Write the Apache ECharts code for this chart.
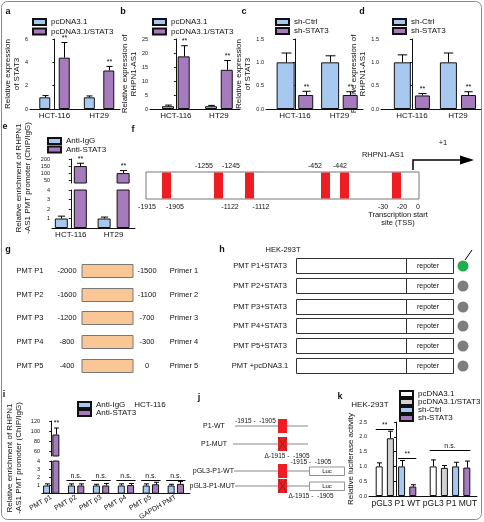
<!DOCTYPE html>
<html lang="en">
<head>
<meta charset="UTF-8">
<title>STAT3 / RHPN1-AS1</title>
<style>
  html, body { margin: 0; padding: 0; background: #fff; }
  #chart { width: 484px; height: 522px; }
</style>
<script src="https://cdn.jsdelivr.net/npm/echarts@6/dist/echarts.min.js"></script>
</head>
<body>
<div id="chart"></div>
<script>
// ---------- data ----------
var cells = ['HCT-116', 'HT29'];

// a: STAT3 after overexpression
var aCtrl = [1.0, 1.0], aCtrlErr = [0.15, 0.12];
var aStat = [4.4, 3.3], aStatErr = [1.3, 0.35];
// b: RHPN1-AS1 after overexpression
var bCtrl = [1.0, 1.0], bCtrlErr = [0.4, 0.3];
var bStat = [18.8, 14.0], bStatErr = [3.8, 3.3];
// c: STAT3 after knockdown
var cCtrl = [1.0, 1.0], cCtrlErr = [0.2, 0.14];
var cSh = [0.3, 0.3], cShErr = [0.08, 0.07];
// d: RHPN1-AS1 after knockdown
var dCtrl = [1.0, 1.0], dCtrlErr = [0.16, 0.2];
var dSh = [0.29, 0.3], dShErr = [0.04, 0.07];
// e: ChIP enrichment
var eIgG = [1.0, 1.0], eIgGErr = [0.25, 0.15];
var eStat = [150, 100], eStatErr = [20, 18];
// i: ChIP per promoter region (HCT-116)
var iCats = ['PMT p1', 'PMT p2', 'PMT p3', 'PMT p4', 'PMT p5', 'GAPDH PMT'];
var iIgG = [1.0, 1.0, 1.0, 1.0, 1.0, 1.0], iIgGErr = [0.2, 0.2, 0.15, 0.2, 0.2, 0.15];
var iStat = [93, 1.0, 1.0, 1.05, 1.15, 1.2], iStatErr = [13, 0.2, 0.25, 0.2, 0.25, 0.3];
// k: luciferase (HEK-293T)
var kCats = ['pGL3 P1 WT', 'pGL3 P1 MUT'];
var kNames = ['pcDNA3.1', 'pcDNA3.1/STAT3', 'sh-Ctrl', 'sh-STAT3'];
var kVals = [[1.0, 1.0], [1.95, 0.95], [1.0, 1.0], [0.32, 0.96]];
var kErrs = [[0.12, 0.22], [0.24, 0.08], [0.2, 0.14], [0.06, 0.22]];

// schematic texts
var fTop = ['-1255', '-1245', '-452', '-442'];
var fBottom = ['-1915', '-1905', '-1122', '-1112', '-30', '-20', '0'];
var gNames = ['PMT P1', 'PMT P2', 'PMT P3', 'PMT P4', 'PMT P5'];
var gStart = ['-2000', '-1600', '-1200', '-800', '-400'];
var gEnd = ['-1500', '-1100', '-700', '-300', '0'];
var gPrimer = ['Primer 1', 'Primer 2', 'Primer 3', 'Primer 4', 'Primer 5'];
var hNames = ['PMT P1+STAT3', 'PMT P2+STAT3', 'PMT P3+STAT3', 'PMT P4+STAT3', 'PMT P5+STAT3', 'PMT +pcDNA3.1'];
var hActive = [true, false, false, false, false, false];

// ---------- style ----------
var FONT = '"Liberation Sans", Arial, sans-serif';
var BLUE = '#a7c9f0', PURPLE = '#a67bbd', GRAY = '#d2d2d2', WHITE = '#ffffff';
var RED = '#ee1d23';

function offsets(widths, gap) {
  var sum = 0, res = [], o;
  widths.forEach(function (w) { sum += w * (1 + gap); });
  sum -= widths[widths.length - 1] * gap;
  o = -sum / 2;
  widths.forEach(function (w) { res.push(o + w / 2); o += w * (1 + gap); });
  return res;
}

function errRender(params, api) {
  var x = api.value(0), y = api.value(1), e = api.value(2);
  var off = api.value(3), cap = api.value(4), star = api.value(5);
  var p0 = api.coord([x, y]), p1 = api.coord([x, y + e]);
  var cx = Math.round(p0[0] + off) + 0.5;
  var kids = [
    {type: 'line', shape: {x1: cx, y1: p0[1], x2: cx, y2: p1[1]}, style: {stroke: '#000', lineWidth: 1}},
    {type: 'line', shape: {x1: cx - cap / 2, y1: p1[1], x2: cx + cap / 2, y2: p1[1]}, style: {stroke: '#000', lineWidth: 1}}
  ];
  if (star) {
    kids.push({type: 'text', x: cx, y: p1[1] - 1,
      style: {text: '**', fontSize: 7, fontFamily: FONT, fill: '#000', textAlign: 'center', textVerticalAlign: 'bottom'}});
  }
  return {type: 'group', children: kids};
}

var series = [];

function panel(gi, prefix, names, colors, vals, errs, stars, widths, gap, barKeep, errKeep) {
  var off = offsets(widths, gap), edata = [];
  names.forEach(function (n, s) {
    series.push({
      type: 'bar', name: prefix + n, xAxisIndex: gi, yAxisIndex: gi,
      barWidth: widths[s], barGap: (gap * 100) + '%', silent: true,
      itemStyle: {color: colors[s], borderColor: '#111', borderWidth: 1},
      data: vals[s].map(function (v, i) { return [i, barKeep(v) ? v : '-']; })
    });
    vals[s].forEach(function (v, i) {
      if (errKeep(v)) edata.push([i, v, errs[s][i], off[s], Math.max(5, widths[s] * 0.55), stars[s][i] ? 1 : 0]);
    });
  });
  series.push({type: 'custom', xAxisIndex: gi, yAxisIndex: gi, silent: true, z: 5,
    renderItem: errRender, data: edata});
  return off;
}

function marks(gi, items) {
  series.push({type: 'custom', xAxisIndex: gi, yAxisIndex: gi, silent: true, z: 6,
    data: items.map(function (m) { return [m.x, m.y]; }),
    renderItem: function (params, api) {
      var m = items[params.dataIndex];
      var p = api.coord([m.x, m.y]);
      var x1 = p[0] + m.from, x2 = p[0] + m.to, y = Math.round(p[1]) + 0.5;
      return {type: 'group', children: [
        {type: 'line', shape: {x1: x1, y1: y, x2: x2, y2: y}, style: {stroke: '#000', lineWidth: 1}},
        {type: 'text', x: (x1 + x2) / 2, y: y - 1,
          style: {text: m.text, fontSize: 7, fontFamily: FONT, fill: '#111', textAlign: 'center', textVerticalAlign: 'bottom'}}
      ]};
    }});
}

var all = function () { return true; };
var none = [0, 0];

// a-d
panel(0, 'a::', ['pcDNA3.1', 'pcDNA3.1/STAT3'], [BLUE, PURPLE], [aCtrl, aStat], [aCtrlErr, aStatErr],
  [none, [1, 1]], [11, 11], 0.77, all, all);
panel(1, 'b::', ['pcDNA3.1', 'pcDNA3.1/STAT3'], [BLUE, PURPLE], [bCtrl, bStat], [bCtrlErr, bStatErr],
  [none, [1, 1]], [12, 12], 0.31, all, all);
panel(2, 'c::', ['sh-Ctrl', 'sh-STAT3'], [BLUE, PURPLE], [cCtrl, cSh], [cCtrlErr, cShErr],
  [none, [1, 1]], [18, 15], 0.2, all, all);
panel(3, 'd::', ['sh-Ctrl', 'sh-STAT3'], [BLUE, PURPLE], [dCtrl, dSh], [dCtrlErr, dShErr],
  [none, [1, 1]], [17, 15], 0.24, all, all);

// e (broken axis: upper + lower grid)
var big = function (v) { return v > 10; }, small = function (v) { return v <= 10; };
panel(4, 'e::', ['Anti-IgG', 'Anti-STAT3'], [BLUE, PURPLE], [eIgG, eStat], [eIgGErr, eStatErr],
  [none, [1, 1]], [13, 13], 0.46, big, big);
panel(5, 'e::', ['Anti-IgG', 'Anti-STAT3'], [BLUE, PURPLE], [eIgG, eStat], [eIgGErr, eStatErr],
  [none, [0, 0]], [13, 13], 0.46, all, small);

// i
var iStars = [[0, 0, 0, 0, 0, 0], [1, 0, 0, 0, 0, 0]];
panel(6, 'i::', ['Anti-IgG', 'Anti-STAT3'], [BLUE, PURPLE], [iIgG, iStat], [iIgGErr, iStatErr],
  iStars, [7, 7], 0.33, big, big);
var iOff = panel(7, 'i::', ['Anti-IgG', 'Anti-STAT3'], [BLUE, PURPLE], [iIgG, iStat], [iIgGErr, iStatErr],
  iStars, [7, 7], 0.33, all, small);
var iMarks = [];
for (var c = 1; c < iCats.length; c++) {
  iMarks.push({x: c, y: 1.7, from: iOff[0] - 5, to: iOff[1] + 5, text: 'n.s.'});
}
marks(7, iMarks);

// k
var kOff = panel(8, 'k::', kNames, [WHITE, GRAY, BLUE, PURPLE], kVals, kErrs,
  [none, none, none, none], [7, 7, 7, 7], 0.6, all, all);
marks(8, [
  {x: 0, y: 2.25, from: kOff[0] - 3.5, to: kOff[1] + 3.5, text: '**'},
  {x: 0, y: 1.28, from: kOff[2] - 3.5, to: kOff[3] + 3.5, text: '**'},
  {x: 1, y: 1.55, from: kOff[0] - 3.5, to: kOff[3] + 3.5, text: 'n.s.'}
]);

// ---------- axes ----------
var grids = [
  [30, 39, 90, 70], [150, 39, 90, 70], [266, 39, 97, 70], [381, 39, 100, 70],
  [52, 159, 83, 24], [52, 190, 83, 38],
  [42, 421, 148, 35], [42, 461, 148, 36],
  [369, 422, 108, 74]
];

function xAx(gi, min, max, cats, show, rotate, size) {
  return {
    gridIndex: gi, type: 'value', min: min, max: max, show: show,
    axisLine: {lineStyle: {color: '#111', width: 1}},
    axisTick: {show: false}, splitLine: {show: false},
    axisLabel: {
      customValues: cats.map(function (c, i) { return i; }),
      formatter: function (v) { return cats[Math.round(v)] || ''; },
      fontSize: size || 8, color: '#111', margin: 3, rotate: rotate || 0
    }
  };
}

function yAx(gi, min, max, interval, o) {
  o = o || {};
  var ax = {
    gridIndex: gi, type: 'value', min: min, max: max, interval: interval,
    splitLine: {show: false},
    axisLine: {show: true, lineStyle: {color: '#111', width: 1}},
    axisTick: {show: true, length: 2, lineStyle: {color: '#111'}},
    axisLabel: {fontSize: 5.5, color: '#111', margin: 2, formatter: o.fmt}
  };
  if (o.labels) { ax.axisLabel.customValues = o.labels; }
  if (o.ticks) { ax.axisTick.customValues = o.ticks; }
  if (o.name) {
    ax.name = o.name;
    ax.nameLocation = 'middle';
    ax.nameGap = o.gap;
    ax.nameTextStyle = {fontSize: 8, lineHeight: 9, color: '#111', fontFamily: FONT};
  }
  return ax;
}

var dec1 = function (v) { return v.toFixed(1); };

var xAxes = [
  xAx(0, -0.55, 1.47, cells, true),
  xAx(1, -0.6, 1.49, cells, true),
  xAx(2, -0.65, 1.53, cells, true),
  xAx(3, -0.67, 1.5, cells, true),
  xAx(4, -0.44, 1.5, cells, false),
  xAx(5, -0.44, 1.5, cells, true),
  xAx(6, -0.37, 5.57, iCats, false),
  xAx(7, -0.37, 5.57, iCats, true, 30, 7),
  xAx(8, -0.5, 1.5, kCats, true, 0, 8.5)
];

var yAxes = [
  yAx(0, 0, 6, 2, {name: 'Relative expression\nof STAT3', gap: 5}),
  yAx(1, 0, 25, 5, {name: 'Relative expression of\nRHPN1-AS1', gap: 8}),
  yAx(2, 0, 1.5, 0.5, {fmt: dec1, name: 'Relative expression\nof STAT3', gap: 11}),
  yAx(3, 0, 1.5, 0.5, {fmt: dec1, name: 'Relative expression of\nRHPN1-AS1', gap: 7}),
  yAx(4, 30, 200, null, {labels: [50, 100, 150, 200], ticks: [50, 100, 150, 200]}),
  yAx(5, 0, 4, 1, {labels: [1, 2, 3, 4]}),
  yAx(6, 50, 120, null, {labels: [60, 80, 100, 120], ticks: [60, 80, 100, 120]}),
  yAx(7, 0, 4, 1, {labels: [1, 2, 3, 4]}),
  yAx(8, 0, 2.5, 0.5, {fmt: dec1, name: 'Relative luciferase activity', gap: 13})
];

// ---------- legends ----------
function leg(left, top, names, gap) {
  return {
    left: left, top: top, orient: 'vertical', padding: 0, icon: 'rect',
    itemWidth: 13, itemHeight: 6, itemGap: gap, selectedMode: false,
    data: names,
    formatter: function (n) { return n.split('::')[1]; },
    textStyle: {fontSize: 8, lineHeight: 8, color: '#111', fontFamily: FONT}
  };
}
var legends = [
  leg(32, 18, ['a::pcDNA3.1', 'a::pcDNA3.1/STAT3'], 1.5),
  leg(152, 18, ['b::pcDNA3.1', 'b::pcDNA3.1/STAT3'], 1.5),
  leg(275, 18, ['c::sh-Ctrl', 'c::sh-STAT3'], 1),
  leg(392, 18, ['d::sh-Ctrl', 'd::sh-STAT3'], 1),
  leg(47, 137, ['e::Anti-IgG', 'e::Anti-STAT3'], 0.5),
  leg(77, 401, ['i::Anti-IgG', 'i::Anti-STAT3'], 0),
  leg(399, 390, kNames.map(function (n) { return 'k::' + n; }), 0)
];

// ---------- schematic / annotation graphics ----------
function txt(x, y, s, size, o) {
  o = o || {};
  return {type: 'text', x: x, y: y, rotation: o.rot || 0, silent: true, z: 10,
    style: {text: s, fontSize: size, fontFamily: FONT, fontWeight: o.bold ? 'bold' : 'normal',
      fill: o.color || '#111', textAlign: o.align || 'center', textVerticalAlign: 'middle', lineHeight: o.lh}};
}
function rect(x, y, w, h, fill, stroke, lw) {
  return {type: 'rect', silent: true, z: 9, shape: {x: x, y: y, width: w, height: h},
    style: {fill: fill, stroke: stroke || null, lineWidth: lw || 1}};
}
function seg(x1, y1, x2, y2, stroke, lw) {
  return {type: 'line', silent: true, z: 9, shape: {x1: x1, y1: y1, x2: x2, y2: y2},
    style: {stroke: stroke || '#000', lineWidth: lw || 1}};
}

var G = [];
G.push({type: 'rect', silent: true, shape: {x: 1.5, y: 1.5, width: 480, height: 518, r: 6},
  style: {fill: null, stroke: '#8a8a8a', lineWidth: 1}});

// panel letters
[['a', 8, 12], ['b', 123, 12], ['c', 244, 12], ['d', 362, 12], ['e', 5, 127], ['f', 133, 130],
 ['g', 8, 250], ['h', 222, 250], ['i', 4, 395], ['j', 199, 398], ['k', 340, 397]].forEach(function (l) {
  G.push(txt(l[1], l[2], l[0], 9, {bold: true}));
});

// rotated axis names for broken-axis panels
G.push(txt(23, 178, 'Relative enrichment of RHPN1\n-AS1 PMT promoter (ChIP/IgG)', 8, {rot: Math.PI / 2, lh: 9}));
G.push(txt(14, 458, 'Relative enrichment of RHPN1\n-AS1 PMT promoter (ChIP/IgG)', 8, {rot: Math.PI / 2, lh: 9}));
G.push(txt(150, 405, 'HCT-116', 8));
G.push(txt(370, 405, 'HEK-293T', 8));

// f: promoter map
G.push(rect(146, 172, 273, 27, '#fff', '#777', 1));
[162, 214, 245, 321, 340, 392].forEach(function (x) { G.push(rect(x, 172.5, 9, 26, RED)); });
[204, 231, 315, 340].forEach(function (x, i) { G.push(txt(x, 166, fTop[i], 7)); });
[147, 175, 230, 261, 383, 402, 418].forEach(function (x, i) { G.push(txt(x, 207, fBottom[i], 7)); });
G.push(txt(398, 215, 'Transcription start', 7.5));
G.push(txt(398, 223, 'site (TSS)', 7.5));
G.push(txt(383, 155, 'RHPN1-AS1', 7.5));
G.push(txt(443, 143, '+1', 7.5));
G.push({type: 'polyline', silent: true, z: 9, shape: {points: [[413, 170], [413, 160], [464, 160]]},
  style: {stroke: '#000', lineWidth: 1.5, fill: null}});
G.push({type: 'polygon', silent: true, z: 9, shape: {points: [[460, 155.5], [474, 160], [460, 164.5]]},
  style: {fill: '#000'}});

// g: promoter fragments
[271, 295, 318, 342, 366].forEach(function (y, i) {
  G.push(txt(30, y, gNames[i], 7.5));
  G.push(txt(67, y, gStart[i], 7.5));
  G.push(rect(82, y - 6.5, 51, 13, '#f9c796', '#777', 1));
  G.push(txt(147, y, gEnd[i], 7.5));
  G.push(txt(184, y, gPrimer[i], 7.5));
});

// h: reporter constructs
G.push(txt(283, 250, 'HEK-293T', 7.5));
[266, 286, 307, 326, 346, 366].forEach(function (y, i) {
  G.push(txt(260, y, hNames[i], 7.5));
  G.push(rect(296.5, y - 7.5, 157, 15, '#fff', '#333', 1));
  G.push(seg(406.5, y - 7.5, 406.5, y + 7.5, '#333', 1));
  G.push(txt(428, y, 'repoter', 7));
  G.push({type: 'circle', silent: true, z: 9, shape: {cx: 463, cy: y, r: 5.5},
    style: {fill: hActive[i] ? '#1fae4b' : '#7d7d7d'}});
});
G.push(seg(465, 260, 472, 250, '#000', 1));

// j: WT / mutant constructs
function redBox(y, cross) {
  G.push(rect(278, y - 7, 9, 14, RED));
  if (cross) {
    G.push(seg(278, y - 7, 287, y + 7, '#333', 0.6));
    G.push(seg(287, y - 7, 278, y + 7, '#333', 0.6));
  }
}
G.push(txt(214, 426, 'P1-WT', 7));
G.push(seg(235, 426, 308, 426, '#888', 1.2));
G.push(txt(235, 421, '-1915 -  -1905', 6.5, {align: 'left'}));
redBox(426, false);
G.push(txt(214, 444, 'P1-MUT', 7));
G.push(seg(233, 444, 308, 444, '#888', 1.2));
redBox(444, true);
G.push(txt(287, 456, '\u0394-1915 -  -1905', 6.5));
G.push(txt(311, 462, '-1915 -  -1905', 6.5));
G.push(txt(234, 471, 'pGL3-P1-WT', 7, {align: 'right'}));
G.push(seg(234, 471, 309, 471, '#888', 1.2));
redBox(471, false);
G.push(rect(309.5, 467, 35, 8.5, '#fff', '#777', 0.8));
G.push(txt(327, 471.5, 'Luc', 6));
G.push(txt(235, 486, 'pGL3-P1-MUT', 7, {align: 'right'}));
G.push(seg(235, 486, 309, 486, '#888', 1.2));
redBox(486, true);
G.push(rect(309.5, 482, 35, 8.5, '#fff', '#777', 0.8));
G.push(txt(327, 486.5, 'Luc', 6));
G.push(txt(311, 496, '\u0394-1915 -  -1905', 6.5));

var chart = echarts.init(document.getElementById('chart'));
chart.setOption({
  animation: false,
  textStyle: {fontFamily: FONT},
  grid: grids.map(function (g) { return {left: g[0], top: g[1], width: g[2], height: g[3]}; }),
  xAxis: xAxes,
  yAxis: yAxes,
  legend: legends,
  series: series,
  graphic: {elements: G}
});
</script>
</body>
</html>
